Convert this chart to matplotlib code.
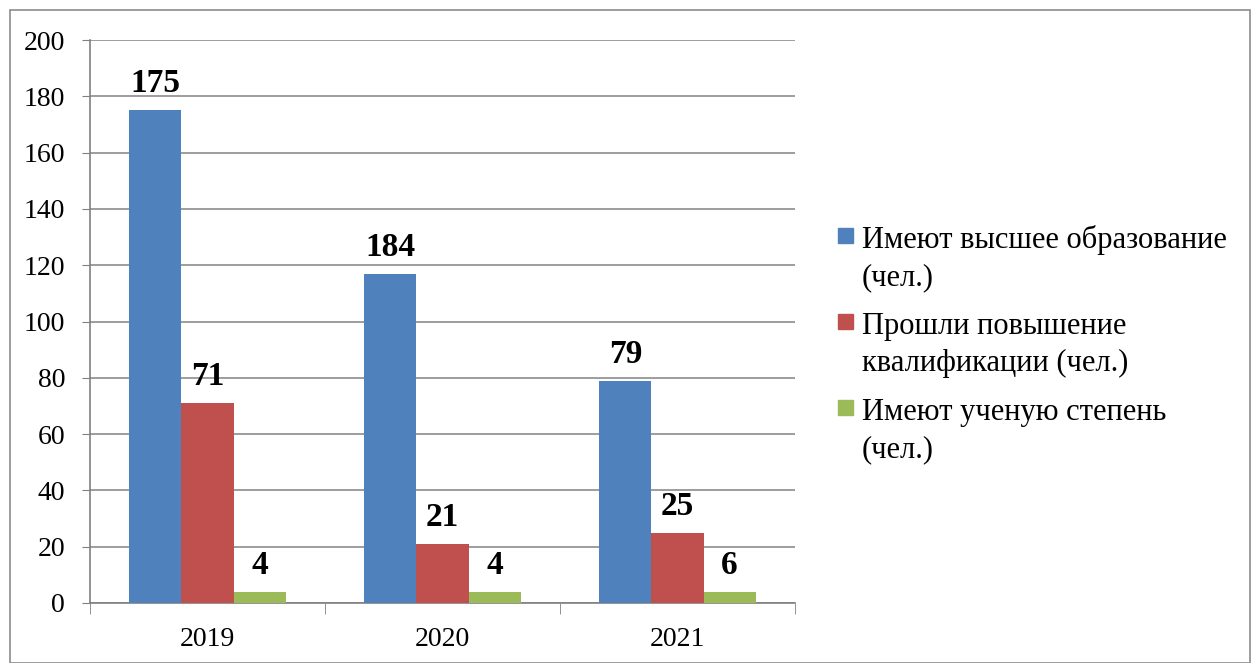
import numpy as np
import matplotlib.pyplot as plt
from matplotlib.patches import Rectangle

years = ['2019', '2020', '2021']
series_names = ['Имеют высшее образование\n(чел.)',
                'Прошли повышение\nквалификации (чел.)',
                'Имеют ученую степень\n(чел.)']
colors = ['#4F81BD', '#C0504D', '#9BBB59']

# bar heights as drawn and the labels printed above them (they differ in the original)
higher_edu = [175, 117, 79]
qualification = [71, 21, 25]
degree = [4, 4, 4]
higher_edu_labels = ['175', '184', '79']
qualification_labels = ['71', '21', '25']
degree_labels = ['4', '4', '6']

heights = [higher_edu, qualification, degree]
labels = [higher_edu_labels, qualification_labels, degree_labels]

plt.rcParams['font.family'] = ['Liberation Serif', 'DejaVu Serif']

W, H = 1255, 663
fig = plt.figure(figsize=(W / 100, H / 100), dpi=100)
ax = fig.add_axes([90 / W, 60 / H, 705 / W, 563 / H])

x = np.arange(len(years))
w = 0.222
for i in range(3):
    pos = x + (i - 1) * w
    ax.bar(pos, heights[i], width=w, color=colors[i], zorder=3)
    for px, h, t in zip(pos, heights[i], labels[i]):
        ax.annotate(t, (px, h), xytext=(0, 13), textcoords='offset points',
                    ha='center', va='baseline', fontsize=24, fontweight='bold')

ax.set_xlim(-0.5, 2.5)
ax.set_ylim(0, 200)
ax.set_yticks(range(0, 201, 20))
ax.tick_params(axis='y', labelsize=20, length=6, color='#808080', direction='out', pad=12)
ax.set_xticks(x)
ax.set_xticklabels(years, fontsize=20)
ax.tick_params(axis='x', length=0, pad=17)
ax.set_xticks([-0.5, 0.5, 1.5, 2.5], minor=True)
ax.tick_params(axis='x', which='minor', length=8, color='#808080', direction='out')
ax.yaxis.grid(True, color='#8C8C8C', linewidth=1.2, zorder=0)
for s in ['top', 'right']:
    ax.spines[s].set_visible(False)
for s in ['left', 'bottom']:
    ax.spines[s].set_color('#808080')
    ax.spines[s].set_linewidth(1.2)

# legend drawn by hand: marker sits beside the first line of each label
for i, name in enumerate(series_names):
    base = 248 + 86 * i
    fig.patches.append(Rectangle((838 / W, 1 - (base - 5) / H), 15 / W, 15 / H,
                                 transform=fig.transFigure, color=colors[i]))
    fig.text(862 / W, 1 - base / H, name.split('\n')[0], fontsize=22, va='baseline', ha='left')
    fig.text(862 / W, 1 - (base + 37) / H, name.split('\n')[1], fontsize=22, va='baseline', ha='left')

fig.patches.append(Rectangle((10 / W, 0), 1240 / W, 653 / H, transform=fig.transFigure,
                             fill=False, edgecolor='#8C8C8C', linewidth=1.2))

fig.savefig('out.png', dpi=100)
